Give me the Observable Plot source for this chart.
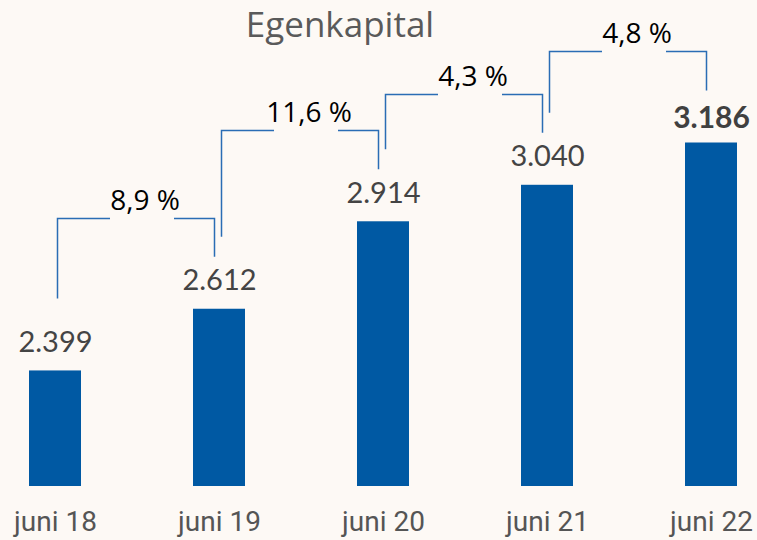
<!DOCTYPE html>
<html>
<head>
<meta charset="utf-8">
<script src="https://cdn.jsdelivr.net/npm/d3@7"></script>
<script src="https://cdn.jsdelivr.net/npm/@observablehq/plot@0.6"></script>
<style>
html, body { margin: 0; padding: 0; background: #fdf9f5; }
#wrap { position: relative; width: 757px; height: 540px; }
#title { position: absolute; left: 0; top: 6px; width: 680px; text-align: center;
  font: 35px/35px "Open Sans", sans-serif; color: #5a5a5a; }
</style>
</head>
<body>
<div id="wrap"><div id="title">Egenkapital</div></div>
<script>
// ---- data ----
const categories = ["juni 18", "juni 19", "juni 20", "juni 21", "juni 22"];
const values = [2399, 2612, 2914, 3040, 3186];
const valueLabels = ["2.399", "2.612", "2.914", "3.040", "3.186"];
const growthLabels = ["8,9 %", "11,6 %", "4,3 %", "4,8 %"];

const barColor = "#0059a3";
const bracketColor = "#2a6db5";

const table = categories.map((c, i) => ({cat: c, value: values[i], label: valueLabels[i], last: i === categories.length - 1}));

// bracket connectors between consecutive bars, drawn with Plot's scales
function brackets(index, scales) {
  const x = scales.x, y = scales.y;
  const bw = typeof x.bandwidth === "function" ? x.bandwidth() : 0;
  const cx = c => x(c) + bw / 2;
  const snap = v => Math.round(v) + 0.5;
  const g = d3.create("svg:g");
  growthLabels.forEach((lab, i) => {
    const c0 = cx(categories[i]), c1 = cx(categories[i + 1]);
    const xa = snap(c0 + 2), xb = snap(c1 - 5);
    const ya = y(values[i]) - 72, yb = y(values[i + 1]) - 52;
    const level = snap(Math.min(y(values[i]), y(values[i + 1])) - 91);
    const tx = (c0 + c1) / 2 + 8;
    const gl = tx - 3 - 32, gr = tx - 3 + 32;
    g.append("path")
      .attr("d", `M${xa},${ya}V${level}H${gl}M${gr},${level}H${xb}V${yb}`)
      .attr("fill", "none").attr("stroke", bracketColor).attr("stroke-width", 1.5);
    g.append("text")
      .attr("x", tx).attr("y", level - 18).attr("dy", "0.35em")
      .attr("text-anchor", "middle")
      .attr("font-family", "'Open Sans', sans-serif").attr("font-size", 28)
      .attr("fill", "#000").text(lab);
  });
  return g.node();
}

const chart = Plot.plot({
  width: 757,
  height: 540,
  marginTop: 0,
  marginBottom: 54,
  marginLeft: 28,
  marginRight: 19,
  style: {background: "transparent", fontFamily: "Roboto, sans-serif", color: "#555"},
  x: {domain: categories, paddingInner: 0.684, paddingOuter: 0, label: null},
  y: {domain: [2000, 3678], axis: null},
  marks: [
    Plot.barY(table, {x: "cat", y1: 2000, y2: "value", fill: barColor}),
    Plot.text(table.filter(d => !d.last), {x: "cat", y: "value", text: "label", lineAnchor: "bottom", dy: -19,
      fontSize: 29, fontFamily: "Lato, sans-serif", fill: "#444"}),
    Plot.text(table.filter(d => d.last), {x: "cat", y: "value", text: "label", lineAnchor: "bottom", dy: -15,
      fontSize: 30, fontWeight: "bold", fontFamily: "Lato, sans-serif", fill: "#404040"}),
    Plot.axisX({tickSize: 0, tickPadding: 25, fontSize: 28, fontFamily: "Roboto, sans-serif", fill: "#555", label: null}),
    brackets
  ]
});
document.getElementById("wrap").prepend(chart);
</script>
</body>
</html>
